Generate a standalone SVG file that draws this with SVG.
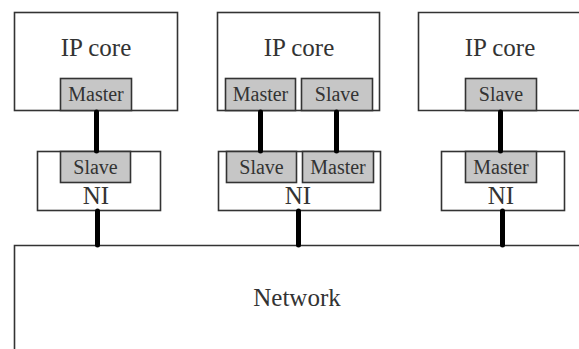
<svg xmlns="http://www.w3.org/2000/svg" width="579" height="349" viewBox="0 0 579 349">
<style>
.box{fill:#fff;stroke:#333;stroke-width:1.6}
.port{fill:#c6c6c6;stroke:#333;stroke-width:1.6}
.big{font-family:"Liberation Serif","Times New Roman",serif;font-size:25px;fill:#333;text-anchor:middle}
.small{font-family:"Liberation Serif","Times New Roman",serif;font-size:20px;fill:#333;text-anchor:middle}
.link{stroke:#000;stroke-width:5;stroke-linecap:round}
</style>
<rect width="579" height="349" fill="#fff"/>
<g id="network">
<path class="box" d="M14.5,349 V245.5 H579"/>
<text class="big" x="297" y="306">Network</text>
</g>
<g id="ipcore1">
<rect class="box" x="14.5" y="12.5" width="163" height="98"/>
<text class="big" x="96" y="56">IP core</text>
<rect class="port" x="60.5" y="78.5" width="71" height="32"/>
<text class="small" x="96" y="101">Master</text>
</g>
<g id="ipcore2">
<rect class="box" x="217.5" y="12.5" width="162" height="98"/>
<text class="big" x="299" y="56">IP core</text>
<rect class="port" x="225.5" y="78.5" width="70" height="32"/>
<text class="small" x="260.5" y="101">Master</text>
<rect class="port" x="301.5" y="78.5" width="71" height="32"/>
<text class="small" x="337" y="101">Slave</text>
</g>
<g id="ipcore3">
<path class="box" d="M579,12.5 H418.5 V110.5 H579"/>
<text class="big" x="500" y="56">IP core</text>
<rect class="port" x="465.5" y="78.5" width="71" height="32"/>
<text class="small" x="501" y="101">Slave</text>
</g>
<g id="ni1">
<rect class="box" x="37.5" y="151.5" width="123" height="59"/>
<rect class="port" x="60.5" y="151.5" width="70" height="31"/>
<text class="small" x="95.5" y="174">Slave</text>
<text class="big" x="96" y="204">NI</text>
</g>
<g id="ni2">
<rect class="box" x="218.5" y="151.5" width="162" height="59"/>
<rect class="port" x="226.5" y="151.5" width="70" height="31"/>
<text class="small" x="261.5" y="174">Slave</text>
<rect class="port" x="302.5" y="151.5" width="71" height="31"/>
<text class="small" x="338" y="174">Master</text>
<text class="big" x="298" y="204">NI</text>
</g>
<g id="ni3">
<rect class="box" x="441.5" y="151.5" width="123" height="59"/>
<rect class="port" x="465.5" y="151.5" width="71" height="31"/>
<text class="small" x="501" y="174">Master</text>
<text class="big" x="501" y="204">NI</text>
</g>
<g id="connectors">
<line class="link" x1="96.5" y1="112" x2="96.5" y2="151"/>
<line class="link" x1="260.5" y1="112" x2="260.5" y2="151"/>
<line class="link" x1="336.5" y1="112" x2="336.5" y2="151"/>
<line class="link" x1="500.5" y1="112" x2="500.5" y2="151"/>
<line class="link" x1="97.5" y1="211" x2="97.5" y2="245"/>
<line class="link" x1="298.5" y1="211" x2="298.5" y2="245"/>
<line class="link" x1="502.5" y1="211" x2="502.5" y2="245"/>
</g>
</svg>
